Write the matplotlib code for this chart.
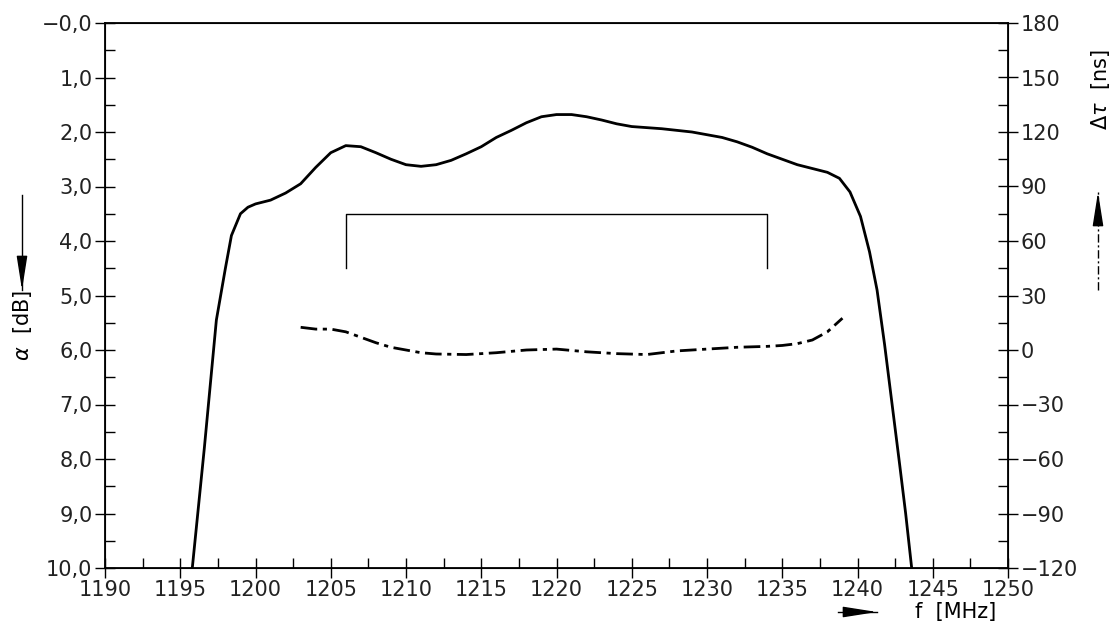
import numpy as np
import matplotlib
matplotlib.use("Agg")
import matplotlib.pyplot as plt
from matplotlib.patches import FancyArrowPatch
from matplotlib.lines import Line2D
from matplotlib.ticker import MultipleLocator, FuncFormatter

# attenuation curve alpha [dB] vs f [MHz]
f_att = [1195.8, 1196.6, 1197.4, 1198.0, 1198.4, 1199.0, 1199.5, 1200, 1201, 1202, 1203,
         1204, 1205, 1206, 1207, 1208, 1209, 1210, 1211, 1212, 1213, 1214, 1215, 1216,
         1217, 1218, 1219, 1220, 1221, 1222, 1223, 1224, 1225, 1226, 1227, 1228, 1229,
         1230, 1231, 1232, 1233, 1234, 1235, 1236, 1237, 1238, 1238.8, 1239.5, 1240.2,
         1240.8, 1241.3, 1241.8, 1242.3, 1242.8, 1243.2, 1243.6]
att = [10.0, 7.8, 5.45, 4.5, 3.9, 3.5, 3.38, 3.32, 3.25, 3.12, 2.95,
       2.65, 2.38, 2.25, 2.27, 2.38, 2.5, 2.6, 2.63, 2.6, 2.52, 2.4, 2.27, 2.1,
       1.97, 1.83, 1.72, 1.68, 1.68, 1.72, 1.78, 1.85, 1.9, 1.92, 1.94, 1.97, 2.0,
       2.05, 2.1, 2.18, 2.28, 2.4, 2.5, 2.6, 2.67, 2.74, 2.85, 3.1, 3.55,
       4.2, 4.9, 5.9, 7.0, 8.1, 9.0, 10.0]

# group delay curve dtau [ns]
f_del = [1203, 1204, 1205, 1206, 1207, 1208, 1209, 1210, 1211, 1212, 1214, 1216, 1218,
         1220, 1222, 1224, 1226, 1228, 1230, 1232, 1234, 1235, 1236, 1237, 1238, 1239]
delay = [12.5, 11.5, 11.5, 10, 7, 4, 1.5, 0, -1.5, -2.2, -2.5, -1.5, 0,
         0.5, -1, -2, -2.5, -0.5, 0.5, 1.5, 2, 2.5, 3.5, 5.5, 10, 17.5]

# tolerance bracket
br_f = [1206, 1234]
br_top, br_bot = 3.5, 4.5

dashdot = (0, (6, 2, 1.5, 2))
plt.rcParams['font.family'] = 'DejaVu Sans'
fig = plt.figure(figsize=(11.2, 6.34), dpi=100)
ax = fig.add_axes([105/1120, 1-568/634, 903/1120, 545/634])
ax.plot(f_att, att, 'k-', lw=2)
ax.plot([br_f[0], br_f[0], br_f[1], br_f[1]], [br_bot, br_top, br_top, br_bot], 'k-', lw=1)
ax.set_xlim(1190, 1250)
ax.set_ylim(10, 0)
ax.xaxis.set_major_locator(MultipleLocator(5))
ax.xaxis.set_minor_locator(MultipleLocator(2.5))
ax.yaxis.set_major_locator(MultipleLocator(1))
ax.yaxis.set_minor_locator(MultipleLocator(0.5))
ax.yaxis.set_major_formatter(FuncFormatter(lambda v, p: ('\u22120,0' if v == 0 else f"{v:.1f}".replace('.', ','))))
ax.tick_params(which='major', direction='inout', length=14, width=1, labelsize=15, pad=2, labelcolor='#222222')
ax.tick_params(which='minor', direction='in', length=7, width=1)
for s in ax.spines.values():
    s.set_linewidth(1.3)

ax2 = ax.twinx()
ax2.plot(f_del, delay, 'k', lw=2, linestyle=dashdot)
ax2.set_ylim(-120, 180)
ax2.yaxis.set_major_locator(MultipleLocator(30))
ax2.yaxis.set_minor_locator(MultipleLocator(15))
ax2.yaxis.set_major_formatter(FuncFormatter(lambda v, p: f"{int(v)}".replace('-', '\u2212')))
ax2.tick_params(which='major', direction='inout', length=14, width=1, labelsize=15, pad=2, labelcolor='#222222')
ax2.tick_params(which='minor', direction='in', length=7, width=1)

def fx(p):
    return (p[0]/1120, 1-p[1]/634)

def arrow(p0, p1, ls='-'):
    # shaft, then a solid head on the last part
    a, b = fx(p0), fx(p1)
    fig.add_artist(Line2D([a[0], b[0]], [a[1], b[1]], transform=fig.transFigure,
                          color='k', lw=1, linestyle=ls))
    t = 0.7
    m = (p0[0] + (p1[0]-p0[0])*t, p0[1] + (p1[1]-p0[1])*t)
    fig.add_artist(FancyArrowPatch(fx(m), b, transform=fig.transFigure,
                   arrowstyle='-|>,head_length=1.4,head_width=0.22',
                   mutation_scale=15, shrinkA=0, shrinkB=0, color='k', lw=1))

# axis labels with arrows
fig.text(22/1120, 1-325/634, r'$\alpha$  [dB]', rotation=90, fontsize=15, ha='center', va='center')
arrow((22, 195), (22, 290))
fig.text(1100/1120, 1-90/634, r'$\Delta\tau$  [ns]', rotation=90, fontsize=15, ha='center', va='center')
arrow((1098, 290), (1098, 192), dashdot)
fig.text(915/1120, 1-612/634, 'f  [MHz]', fontsize=15, ha='left', va='center')
arrow((838, 612), (877, 612))

fig.savefig('out.png', dpi=100)
